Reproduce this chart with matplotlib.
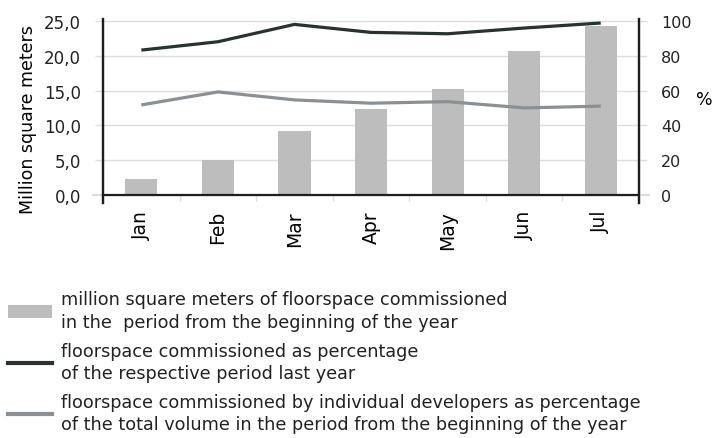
import matplotlib

matplotlib.use("Agg")
import matplotlib.pyplot as plt  # noqa: E402
from matplotlib.lines import Line2D  # noqa: E402
from matplotlib.patches import Patch  # noqa: E402

months = ["Jan", "Feb", "Mar", "Apr", "May", "Jun", "Jul"]
area_mln_m2 = [2.3, 5.0, 9.1, 12.3, 15.2, 20.7, 24.3]
pct_last_year = [83.3, 88.1, 98.1, 93.5, 92.7, 96.0, 98.9]
pct_individual = [51.7, 59.2, 54.6, 52.7, 53.6, 50.0, 51.0]

left_ticks = [0, 5, 10, 15, 20, 25]
right_ticks = [0, 20, 40, 60, 80, 100]

legend_labels = [
    "million square meters of floorspace commissioned\nin the  period from the beginning of the year",
    "floorspace commissioned as percentage\nof the respective period last year",
    "floorspace commissioned by individual developers as percentage\n"
    "of the total volume in the period from the beginning of the year",
]

BAR = "#BDBDBD"
DARK = "#27332F"
GREY = "#8A9093"
GRID = "#DDDDDD"
AXIS = "#1E1E1E"
TEXT = "#222222"

plt.rcParams["font.family"] = "DejaVu Sans"
plt.rcParams["text.color"] = TEXT

fig = plt.figure(figsize=(7.12, 4.39), dpi=100)
ax = fig.add_axes([0.1447, 0.5353, 0.7528, 0.4191])
ax2 = ax.twinx()

# spines first: set_position resets the ticks
for a in (ax, ax2):
    a.spines["top"].set_visible(False)
    a.spines["bottom"].set_position(("data", 0))
    a.spines["bottom"].set_color(AXIS)
    a.spines["bottom"].set_linewidth(1.6)
    a.spines["left"].set_color(AXIS)
    a.spines["left"].set_linewidth(1.6)
    a.spines["right"].set_color(AXIS)
    a.spines["right"].set_linewidth(1.6)
ax2.spines["bottom"].set_visible(False)

x = list(range(len(months)))
ax.bar(x, area_mln_m2, width=0.42, color=BAR, zorder=2)
ax2.plot(x, pct_last_year, color=DARK, lw=2.3, solid_capstyle="butt")
ax2.plot(x, pct_individual, color=GREY, lw=2.3, solid_capstyle="butt")

ax.set_xlim(-0.5, 6.5)
ax.set_ylim(-1.2, 25.3)
ax2.set_ylim(-4.8, 101.2)

# left axis
ax.set_yticks(left_ticks)
ax.set_yticklabels([f"{v:.1f}".replace(".", ",") for v in left_ticks], fontsize=12)
ax.tick_params(axis="y", length=6, width=1, color=GRID, pad=10, labelcolor=TEXT)
ax.yaxis.grid(True, color=GRID, lw=1)
ax.set_axisbelow(True)
ax.set_ylabel("Million square meters", fontsize=12.5)
ax.yaxis.set_label_coords(-0.123, 0.457)

# right axis
ax2.set_yticks(right_ticks)
ax2.set_yticklabels([str(v) for v in right_ticks], fontsize=11.5)
ax2.tick_params(axis="y", length=6, width=1, color=GRID, pad=10, labelcolor=TEXT)
ax2.set_ylabel("%", rotation=0, fontsize=12.5, ha="center", va="center")
ax2.yaxis.set_label_coords(1.121, 0.565)

# zero line ticks drawn dark, like an extension of the x axis
for a in (ax, ax2):
    t0 = a.yaxis.get_major_ticks()[0]
    for ln in (t0.tick1line, t0.tick2line):
        ln.set_color(AXIS)
        ln.set_markersize(8)
        ln.set_markeredgewidth(1.6)

# x axis
ax.set_xticks(x)
ax.set_xticklabels(months, rotation=90, fontsize=13.5)
ax.set_xticks([i + 0.5 for i in x[:-1]], minor=True)
ax.tick_params(axis="x", which="major", length=0, pad=11)
ax.tick_params(axis="x", which="minor", length=4, width=1, color=GRID)

handles = [
    Patch(facecolor=BAR, edgecolor="none"),
    Line2D([], [], color=DARK, lw=3),
    Line2D([], [], color=GREY, lw=3),
]
leg = fig.legend(handles, legend_labels, loc="upper left", bbox_to_anchor=(0.011, 0.336),
                 frameon=False, fontsize=12.7, handlelength=2.5, handletextpad=0.5,
                 labelspacing=0.62, borderpad=0, borderaxespad=0)
for t in leg.get_texts():
    t.set_linespacing(1.3)

fig.savefig("out.png", dpi=100)
plt.close(fig)
